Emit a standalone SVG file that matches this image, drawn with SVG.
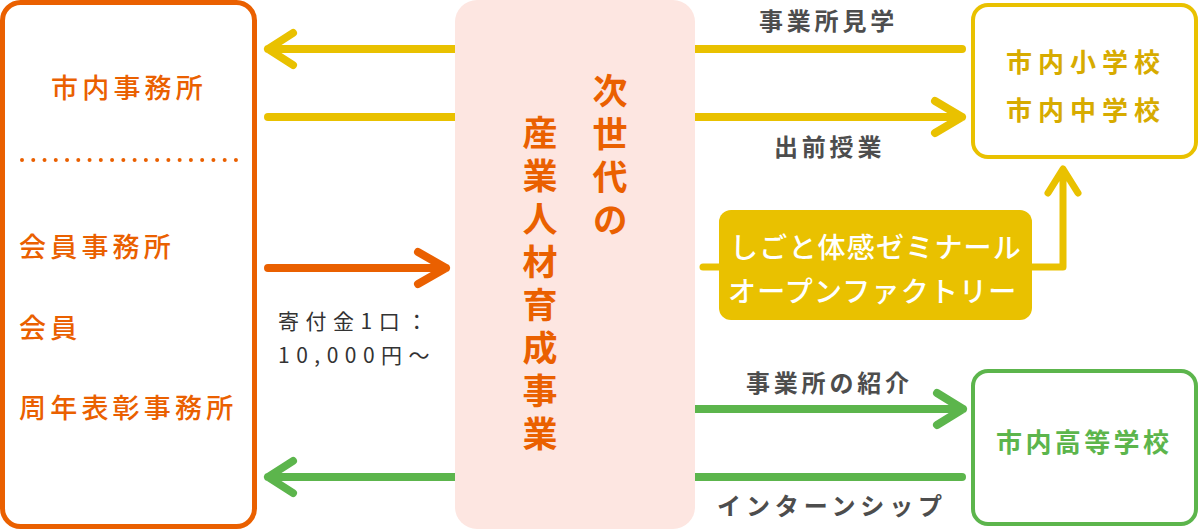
<svg xmlns="http://www.w3.org/2000/svg" width="1200" height="530" viewBox="0 0 1200 530">
<style>
.ln{fill:none;stroke-width:8;stroke-linecap:round;stroke-linejoin:round}
.y{stroke:#E9C100}
.o{stroke:#EA6000}
.g{stroke:#5CB54C}
.jp{font-family:"Noto Sans CJK JP","Noto Sans",sans-serif}
.lab{font-size:24px;font-weight:700;fill:#4D4D4D;letter-spacing:3.8px}
.org{font-size:27px;font-weight:500;fill:#EA6000;letter-spacing:4.2px}
</style>
<rect width="1200" height="530" fill="#FFFFFF"/>
<g id="connectors">
  <path class="ln y" d="M460,49 L268,49 M293,33 L268,49 L293,65"/>
  <path class="ln y" d="M268,117 L460,117"/>
  <path class="ln y" d="M690,49 L962,49"/>
  <path class="ln y" d="M690,117 L962,117 M935,101 L962,117 L935,133"/>
  <path class="ln o" d="M268,268 L446,268 M418,252 L446,268 L418,284"/>
  <path class="ln g" d="M690,409 L963,409 M937,393 L963,409 L937,425"/>
  <path class="ln g" d="M460,477 L268,477 M293,461 L268,477 L293,493"/>
  <path class="ln g" d="M690,477 L962,477"/>
  <path class="ln y" style="stroke-width:7" d="M703,267 L730,267"/>
  <path class="ln y" style="stroke-width:7" d="M1020,267 L1063,267 L1063,170 M1048,193 L1063,169 L1078,193"/>
</g>
<g id="left-box">
  <rect x="2.5" y="2.5" width="252" height="524" rx="18" fill="#FFFFFF" stroke="#EA6000" stroke-width="5"/>
  <text class="jp org" x="51" y="98">市内事務所</text>
  <line x1="22" y1="160" x2="236" y2="160" stroke="#EA6000" stroke-width="4" stroke-linecap="round" stroke-dasharray="0 11.26"/>
  <text class="jp org" x="19" y="257">会員事務所</text>
  <text class="jp org" x="19" y="338">会員</text>
  <text class="jp org" x="19" y="418">周年表彰事務所</text>
</g>
<g id="donation-label">
  <text class="jp" x="278" y="329" font-size="21" fill="#333333" letter-spacing="6.5">寄付金1口：</text>
  <text class="jp" x="278" y="363" font-size="21" fill="#333333" letter-spacing="6.5">10,000円～</text>
</g>
<g id="center-box">
  <rect x="455" y="0" width="240" height="529" rx="22" fill="#FDE6E1"/>
  <text class="jp" x="610" y="73" font-size="35" font-weight="700" fill="#EA6000" letter-spacing="8" writing-mode="vertical-rl">次世代の</text>
  <text class="jp" x="540" y="115" font-size="35" font-weight="700" fill="#EA6000" letter-spacing="8" writing-mode="vertical-rl">産業人材育成事業</text>
</g>
<g id="labels">
  <text class="jp lab" x="759" y="30">事業所見学</text>
  <text class="jp lab" x="774" y="156">出前授業</text>
  <text class="jp lab" x="746" y="392">事業所の紹介</text>
  <text class="jp lab" x="717" y="515" style="letter-spacing:4.9px">インターンシップ</text>
</g>
<g id="seminar">
  <rect x="719" y="210" width="313" height="110" rx="12" fill="#E9C100"/>
  <text class="jp" x="730" y="258" font-size="28" font-weight="500" fill="#FFFFFF" letter-spacing="1.2">しごと体感ゼミナール</text>
  <text class="jp" x="728" y="302" font-size="28" font-weight="500" fill="#FFFFFF" letter-spacing="1.2">オープンファクトリー</text>
</g>
<g id="school-elem">
  <rect x="973" y="5" width="223" height="152" rx="15" fill="#FFFFFF" stroke="#E9C100" stroke-width="4"/>
  <text class="jp" x="1006" y="72" font-size="26" font-weight="700" fill="#D7AB00" letter-spacing="6">市内小学校</text>
  <text class="jp" x="1006" y="120" font-size="26" font-weight="700" fill="#D7AB00" letter-spacing="6">市内中学校</text>
</g>
<g id="school-high">
  <rect x="973" y="371" width="223" height="153" rx="15" fill="#FFFFFF" stroke="#5CB54C" stroke-width="4"/>
  <text class="jp" x="996" y="452" font-size="26" font-weight="700" fill="#5CB54C" letter-spacing="3.4">市内高等学校</text>
</g>
</svg>
